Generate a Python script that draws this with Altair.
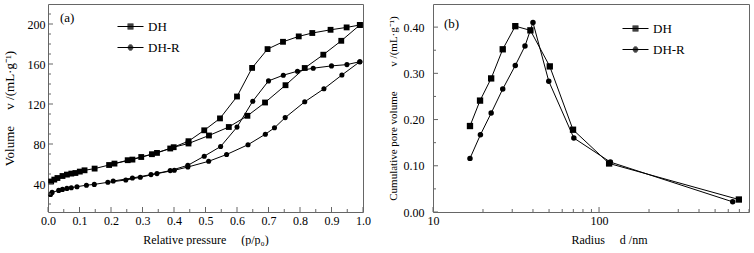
import altair as alt
import pandas as pd

FONT = "Liberation Serif"

# ---------------- Panel (a): N2 isotherms ----------------
dh_ads_p = [0.01, 0.02, 0.03, 0.046, 0.06, 0.074, 0.087, 0.101, 0.116, 0.148, 0.194, 0.253,
            0.296, 0.346, 0.399, 0.446, 0.511, 0.574, 0.633, 0.689, 0.754, 0.815, 0.874, 0.931, 0.99]
dh_ads_v = [42.5, 44.4, 46.0, 48.0, 49.4, 50.4, 51.0, 52.4, 53.7, 55.4, 59.0, 63.8,
            67.0, 71.1, 76.8, 80.5, 88.5, 97.0, 108.2, 121.5, 138.8, 156.0, 169.3, 183.2, 199.0]
dh_des_p = [0.99, 0.948, 0.897, 0.839, 0.796, 0.746, 0.697, 0.648, 0.600, 0.546, 0.496,
            0.446, 0.388, 0.33, 0.268, 0.211]
dh_des_v = [199.0, 196.6, 194.2, 191.0, 187.6, 182.2, 174.9, 156.1, 127.5, 105.6, 93.7,
            82.8, 75.5, 69.8, 64.4, 60.4]
dhr_ads_p = [0.008, 0.013, 0.034, 0.046, 0.06, 0.074, 0.092, 0.122, 0.147, 0.19, 0.247, 0.293,
             0.346, 0.401, 0.444, 0.51, 0.567, 0.635, 0.69, 0.719, 0.753, 0.815, 0.876, 0.933, 0.99]
dhr_ads_v = [29.5, 31.6, 33.6, 34.6, 35.6, 36.3, 37.3, 38.8, 39.6, 41.7, 44.0, 46.7,
             50.4, 53.7, 57.0, 62.7, 69.5, 79.3, 89.8, 96.2, 106.4, 122.2, 135.2, 149.0, 162.3]
dhr_des_p = [0.99, 0.949, 0.900, 0.842, 0.792, 0.747, 0.700, 0.650, 0.600, 0.548, 0.496,
             0.444, 0.388, 0.327, 0.268, 0.207]
dhr_des_v = [162.3, 159.4, 158.1, 155.8, 152.8, 148.8, 143.1, 122.8, 96.9, 77.5, 67.8,
             58.7, 53.4, 49.4, 46.0, 43.0]

a_x_labels = [0.0, 0.1, 0.2, 0.3, 0.4, 0.5, 0.6, 0.7, 0.8, 0.9, 1.0]
a_x_minor = [0.05, 0.15, 0.25, 0.35, 0.45, 0.55, 0.65, 0.75, 0.85, 0.95]
a_y_labels = [40, 80, 120, 160, 200]
a_y_minor = [20, 30, 50, 60, 70, 90, 100, 110, 130, 140, 150, 170, 180, 190, 210]

# ---------------- Panel (b): pore volume vs radius ----------------
dh_r = [16.7, 19.2, 22.4, 26.3, 31.3, 38.6, 50.5, 69.7, 115, 695]
dh_pv = [0.186, 0.241, 0.289, 0.352, 0.402, 0.393, 0.315, 0.178, 0.105, 0.027]
dhr_r = [16.7, 19.3, 22.4, 26.3, 31.3, 35.8, 40.0, 49.8, 70.5, 117, 638]
dhr_pv = [0.116, 0.167, 0.214, 0.266, 0.317, 0.359, 0.410, 0.283, 0.160, 0.108, 0.022]

b_x_labels = [10, 100]
b_x_minor = [20, 30, 40, 50, 60, 70, 80, 90, 200, 300, 400, 500, 600, 700, 800]
b_y_labels = [0.0, 0.1, 0.2, 0.3, 0.4]
b_y_minor = [0.05, 0.15, 0.25, 0.35]

series_names = ["DH", "DH-R"]

W, H = 315, 208
FRAME = "#666666"

# legend glyphs: a 26 px line with a filled marker drawn by 1 px strokes
LEG_PX = 26.0
UNIT = 2.0 / LEG_PX


def _hatch(halfwidths):
    parts = ["M-1,0H1"]
    n = len(halfwidths)
    for i, hw in enumerate(halfwidths):
        yy = (i - (n - 1) / 2.0) * UNIT
        parts.append("M%.4f,%.4fH%.4f" % (-hw * UNIT, yy, hw * UNIT))
    return "".join(parts)


SQ_PATH = _hatch([3, 3, 3, 3, 3, 3])
CI_PATH = _hatch([1.3, 2.3, 2.75, 2.75, 2.3, 1.3])


def branch_df(xs, ys, series, branch, xname, yname):
    return pd.DataFrame({xname: xs, yname: ys, "series": series,
                         "key": series + "-" + branch, "idx": list(range(len(xs)))})


df_a = pd.concat([
    branch_df(dh_ads_p, dh_ads_v, "DH", "ads", "p", "v"),
    branch_df(dh_des_p, dh_des_v, "DH", "des", "p", "v"),
    branch_df(dhr_ads_p, dhr_ads_v, "DH-R", "ads", "p", "v"),
    branch_df(dhr_des_p, dhr_des_v, "DH-R", "des", "p", "v"),
], ignore_index=True)

df_b = pd.concat([
    branch_df(dh_r, dh_pv, "DH", "all", "r", "pv"),
    branch_df(dhr_r, dhr_pv, "DH-R", "all", "r", "pv"),
], ignore_index=True)


def legend_layer(base, xenc, yenc, lx, ly):
    return base.mark_point(opacity=0, filled=False, color="black").encode(
        x=xenc, y=yenc,
        shape=alt.Shape("series:N",
                        scale=alt.Scale(domain=series_names, range=[SQ_PATH, CI_PATH]),
                        legend=alt.Legend(title=None, orient="none", legendX=lx, legendY=ly,
                                          symbolSize=LEG_PX * LEG_PX,
                                          symbolStrokeColor="black", symbolStrokeWidth=1,
                                          symbolOpacity=1, labelFont=FONT, labelFontSize=13,
                                          labelColor="black", labelOffset=4, rowPadding=0,
                                          padding=0)),
    )


def tick_rules(values, scale, axis, length, vertical_axis):
    d = pd.DataFrame({"t": values})
    c = alt.Chart(d).mark_rule(color=FRAME, strokeWidth=1)
    if vertical_axis:
        return c.encode(y=alt.Y("t:Q", scale=scale, axis=axis),
                        x=alt.value(0), x2=alt.value(length))
    return c.encode(x=alt.X("t:Q", scale=scale, axis=axis),
                    y=alt.value(H), y2=alt.value(H - length))


def panel_label(text, x, y):
    return alt.Chart(pd.DataFrame({"t": [text]})).mark_text(
        font=FONT, fontSize=13, align="left", baseline="middle", color="black"
    ).encode(text="t:N", x=alt.value(x), y=alt.value(y))


# ----- panel (a)
xs_a = alt.Scale(domain=[0, 1])
ys_a = alt.Scale(domain=[12, 220])
ax_xa = alt.Axis(values=a_x_labels, format=".1f", labelFlush=False, labelOverlap=False,
                 title="Relative pressure\u2003 (p/p\u2080)", labelPadding=3, titlePadding=8)
ax_ya = alt.Axis(values=a_y_labels, format="d", labelOverlap=False, labelPadding=3,
                 title="Volume\u2003 v /(mL\u00b7g\u207b\u00b9)", titleFontSize=13, titlePadding=11)

base_a = alt.Chart(df_a)
lines_a = base_a.mark_line(color="black", strokeWidth=1).encode(
    x=alt.X("p:Q", scale=xs_a, axis=ax_xa),
    y=alt.Y("v:Q", scale=ys_a, axis=ax_ya),
    detail="key:N", order="idx:Q")
pts_a = base_a.mark_point(filled=True, color="black", opacity=1).encode(
    x=alt.X("p:Q", scale=xs_a, axis=ax_xa),
    y=alt.Y("v:Q", scale=ys_a, axis=ax_ya),
    shape=alt.Shape("series:N", scale=alt.Scale(domain=series_names, range=["square", "circle"]),
                    legend=None),
    size=alt.Size("series:N", scale=alt.Scale(domain=series_names, range=[34, 26]), legend=None))
leg_a = legend_layer(base_a, alt.X("p:Q", scale=xs_a, axis=ax_xa),
                     alt.Y("v:Q", scale=ys_a, axis=ax_ya), 69, 9)

panel_a = alt.layer(
    lines_a, pts_a, leg_a,
    tick_rules(a_y_minor, ys_a, ax_ya, 3, True),
    tick_rules(a_y_labels, ys_a, ax_ya, 5, True),
    tick_rules(a_x_minor, xs_a, ax_xa, 3, False),
    tick_rules(a_x_labels, xs_a, ax_xa, 5, False),
    panel_label("(a)", 12, 14),
).resolve_scale(shape="independent", size="independent").properties(width=W, height=H)

# ----- panel (b)
xs_b = alt.Scale(type="log", domain=[10, 800])
ys_b = alt.Scale(domain=[0, 0.45])
ax_xb = alt.Axis(values=b_x_labels, format="d", labelFlush=False, labelOverlap=False,
                 title="Radius\u2003 d /nm", labelPadding=3, titlePadding=8, titleX=176)
ax_yb = alt.Axis(values=b_y_labels, format=".2f", labelOverlap=False, labelPadding=9,
                 title="Cumulative pore volume\u2003\u2003 v /(mL\u00b7g\u207b\u00b9)",
                 titleFontSize=11, titlePadding=5)

base_b = alt.Chart(df_b)
lines_b = base_b.mark_line(color="black", strokeWidth=1).encode(
    x=alt.X("r:Q", scale=xs_b, axis=ax_xb),
    y=alt.Y("pv:Q", scale=ys_b, axis=ax_yb),
    detail="key:N", order="idx:Q")
pts_b = base_b.mark_point(filled=True, color="black", opacity=1).encode(
    x=alt.X("r:Q", scale=xs_b, axis=ax_xb),
    y=alt.Y("pv:Q", scale=ys_b, axis=ax_yb),
    shape=alt.Shape("series:N", scale=alt.Scale(domain=series_names, range=["square", "circle"]),
                    legend=None),
    size=alt.Size("series:N", scale=alt.Scale(domain=series_names, range=[40, 30]), legend=None))
leg_b = legend_layer(base_b, alt.X("r:Q", scale=xs_b, axis=ax_xb),
                     alt.Y("pv:Q", scale=ys_b, axis=ax_yb), 189, 11)

panel_b = alt.layer(
    lines_b, pts_b, leg_b,
    tick_rules(b_y_minor, ys_b, ax_yb, 3, True),
    tick_rules(b_y_labels, ys_b, ax_yb, 5, True),
    tick_rules(b_x_minor, xs_b, ax_xb, 3, False),
    tick_rules(b_x_labels, xs_b, ax_xb, 5, False),
    panel_label("(b)", 11, 20),
).resolve_scale(shape="independent", size="independent").properties(width=316, height=H)

chart = alt.hconcat(panel_a, panel_b, spacing=70, bounds="flush").properties(
    padding={"left": 2, "top": 3, "right": 4, "bottom": 0}
).configure_view(stroke=FRAME, strokeWidth=1).configure_axis(
    labelFont=FONT, labelFontSize=12, labelColor="black",
    titleFont=FONT, titleFontSize=12, titleFontWeight="normal", titleColor="black",
    ticks=False, tickSize=0, domain=False, grid=False,
)

chart.save("out.html", embed_options={"renderer": "svg", "actions": False})
